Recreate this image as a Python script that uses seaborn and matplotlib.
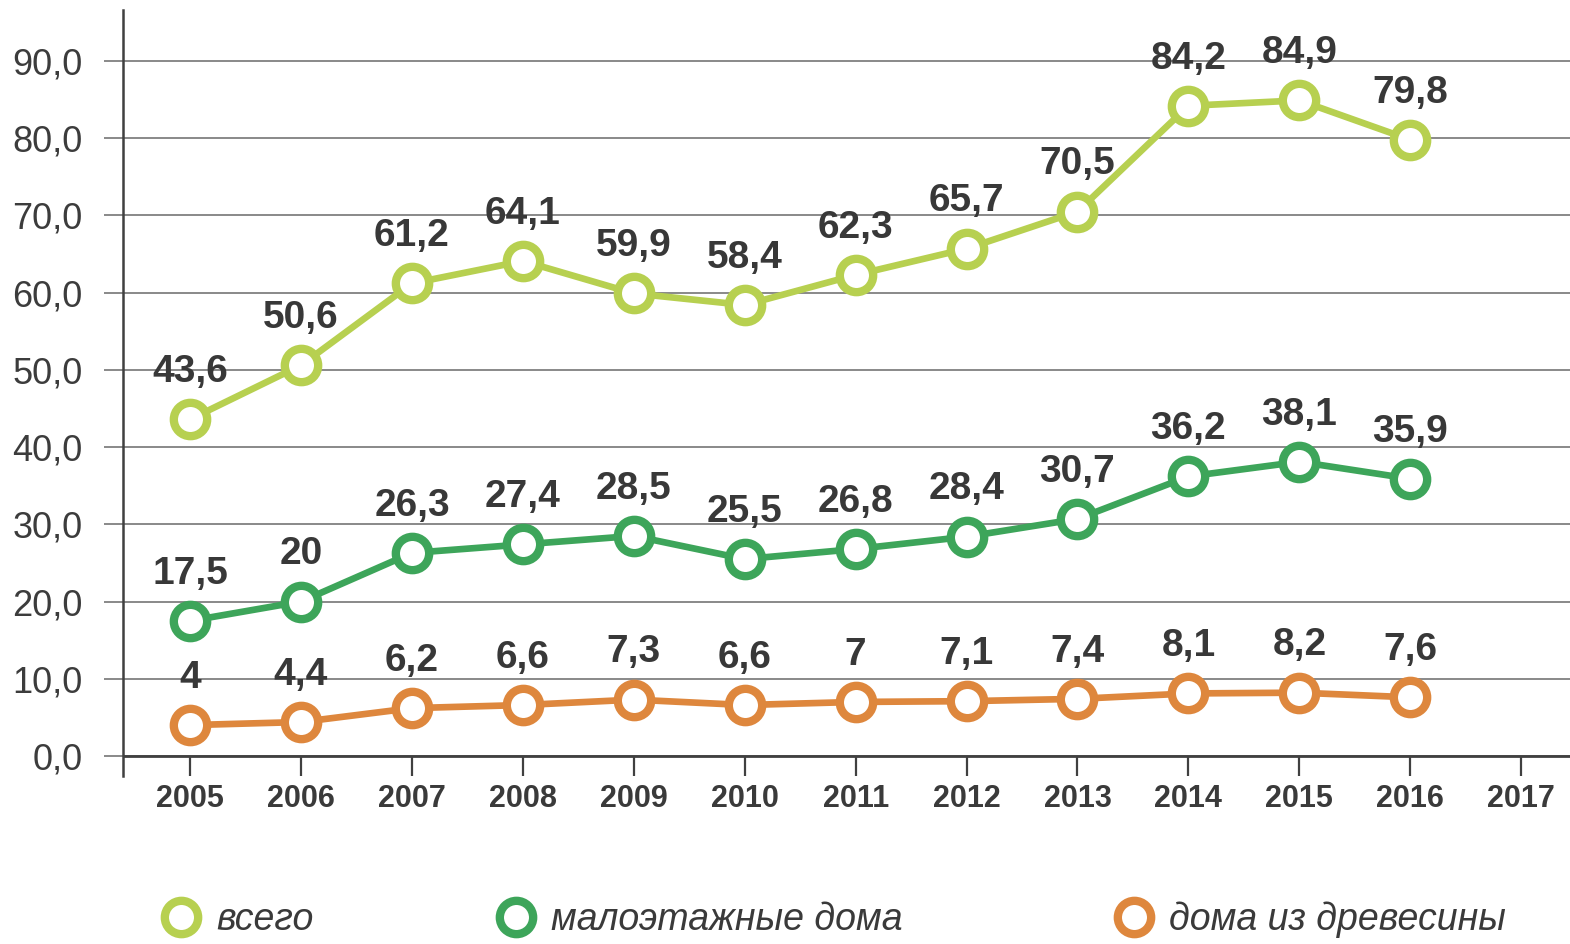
import matplotlib
matplotlib.use("Agg")
import matplotlib.pyplot as plt
from matplotlib.lines import Line2D
import seaborn as sns
import pandas as pd

years = [2005, 2006, 2007, 2008, 2009, 2010, 2011, 2012, 2013, 2014, 2015, 2016]
tick_years = [2005, 2006, 2007, 2008, 2009, 2010, 2011, 2012, 2013, 2014, 2015, 2016, 2017]
vsego = [43.6, 50.6, 61.2, 64.1, 59.9, 58.4, 62.3, 65.7, 70.5, 84.2, 84.9, 79.8]
malo = [17.5, 20.0, 26.3, 27.4, 28.5, 25.5, 26.8, 28.4, 30.7, 36.2, 38.1, 35.9]
derevo = [4.0, 4.4, 6.2, 6.6, 7.3, 6.6, 7.0, 7.1, 7.4, 8.1, 8.2, 7.6]
series_names = ["всего", "малоэтажные дома", "дома из древесины"]
colors = ["#b7d050", "#3da55a", "#de873d"]
y_ticks = [0, 10, 20, 30, 40, 50, 60, 70, 80, 90]

sns.set_theme(style="white")
plt.rcParams['font.family'] = ['Liberation Sans', 'DejaVu Sans']

fig = plt.figure(figsize=(15.7, 9.44), dpi=100)
ax = fig.add_axes([123/1570, 1 - 776/944, 1 - 123/1570, (776 - 10)/944])

df = pd.DataFrame({"year": years * 3,
                   "value": vsego + malo + derevo,
                   "series": [series_names[0]] * 12 + [series_names[1]] * 12 + [series_names[2]] * 12})

MS = 24
MEW = 6.0
for name, col in zip(series_names, colors):
    sub = df[df["series"] == name]
    sns.lineplot(data=sub, x="year", y="value", ax=ax, color=col, linewidth=4.8,
                 marker="o", markersize=MS, markerfacecolor="white",
                 markeredgecolor=col, markeredgewidth=MEW, legend=False, zorder=3)
    for x, v in zip(sub["year"], sub["value"]):
        txt = f"{v:g}".replace(".", ",")
        ax.annotate(txt, (x, v), xytext=(0, 34), textcoords="offset points",
                    ha="center", va="center", fontsize=28, fontweight="bold",
                    color="#383838", zorder=4)

# y scale: 0 at 756 px, 90 at 61 px
unit = (756 - 61) / 90
ax.set_ylim(-(776 - 756) / unit, 90 + (61 - 10) / unit)
ax.set_xlim(2005 - 0.605, 2017 + 0.44)

ax.set_yticks(y_ticks)
ax.set_yticklabels([f"{t:.1f}".replace(".", ",") for t in y_ticks], fontsize=26, color="#3c3c3c")
ax.set_xticks(tick_years)
ax.set_xticklabels([str(t) for t in tick_years], fontsize=22, fontweight="bold", color="#3a3a3a")

ax.yaxis.grid(True, color="#808080", linewidth=1.3)
ax.xaxis.grid(False)
ax.tick_params(axis="y", direction="out", length=14, width=1.3, color="#808080", pad=15, left=True)
ax.tick_params(axis="x", direction="in", length=14, width=1.6, color="#404040", pad=6, bottom=True)
ax.axhline(0, color="#404040", linewidth=2, zorder=2)

for s in ["top", "right", "bottom"]:
    ax.spines[s].set_visible(False)
ax.spines["left"].set_color("#404040")
ax.spines["left"].set_linewidth(1.8)
ax.set_xlabel("")
ax.set_ylabel("")

legend_x = [158, 493, 1111]
for name, col, lx in zip(series_names, colors, legend_x):
    h = Line2D([], [], linestyle="none", marker="o", markersize=MS, markerfacecolor="white",
               markeredgecolor=col, markeredgewidth=MEW)
    leg = fig.legend([h], [name], loc="center left", bbox_to_anchor=(lx/1570, 1 - 920/944),
                     frameon=False, handletextpad=0.35, handlelength=1.2,
                     borderpad=0, borderaxespad=0,
                     prop={"size": 27, "style": "italic"})
    for t in leg.get_texts():
        t.set_color("#3a3a3a")

fig.savefig("out.png", dpi=100)
